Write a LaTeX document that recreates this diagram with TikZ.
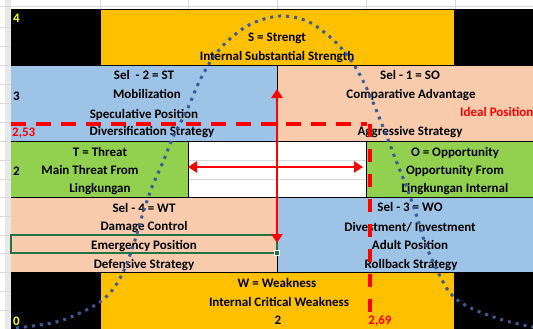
\documentclass[tikz,border=0pt]{standalone}
\usepackage{fontspec}
\setmainfont{Carlito}
\usetikzlibrary{arrows.meta}
\definecolor{xlyellow}{HTML}{FFC000}
\definecolor{xlblue}{HTML}{9DC3E6}
\definecolor{xlpink}{HTML}{F8CBAD}
\definecolor{xlgreen}{HTML}{92D050}
\definecolor{xlgrid}{HTML}{D9D9D9}
\definecolor{xlsel}{HTML}{217346}
\definecolor{curveblue}{HTML}{3A5A9A}
\definecolor{lblyellow}{HTML}{FFFF00}
\begin{document}
\begin{tikzpicture}[x=1pt,y=-1pt,
  font=\fontsize{13}{15}\selectfont\bfseries,
  txt/.style={anchor=base,inner sep=0pt},
  txtw/.style={anchor=base west,inner sep=0pt},
  cellline/.style={black,line width=0.9pt},
  gridline/.style={xlgrid,line width=0.8pt},
  redarrow/.style={red,line width=2.8pt,{Triangle[length=9pt,width=11pt]}-{Triangle[length=9pt,width=11pt]}},
  reddash/.style={red,line width=3.2pt},
  bell/.style={curveblue,line width=3pt,dash pattern=on 3pt off 5pt}]
\useasboundingbox (0,0) rectangle (533,329);
\begin{scope}
\clip (0,0) rectangle (533,329);
% sheet background and headers
\fill[white] (0,0) rectangle (533,329);
\fill[xlgrid!60] (5,0) rectangle (11,329);
\draw[gridline] (0,6) -- (533,6);
\foreach \gx in {100,188,277,366,455} \draw[gridline] (\gx,0) -- (\gx,9);
\foreach \gy in {27,46,65,84,103,122,141,160,179,197,216,235,253,272,291,310} \draw[gridline] (0,\gy) -- (11,\gy);
% cells
\fill[black] (11,9) rectangle (100,65);
\fill[xlyellow] (100,9) rectangle (454,65);
\fill[black] (454,9) rectangle (533,65);
\fill[xlblue] (11,65) rectangle (277,141);
\fill[xlpink] (277,65) rectangle (533,141);
\fill[xlgreen] (11,141) rectangle (188,197);
\fill[white] (188,141) rectangle (366,197);
\fill[xlgreen] (366,141) rectangle (533,197);
\fill[xlpink] (11,197) rectangle (277,272);
\fill[xlblue] (277,197) rectangle (533,272);
\fill[black] (11,272) rectangle (100,329);
\fill[xlyellow] (100,272) rectangle (454,329);
\fill[black] (454,272) rectangle (533,329);
\draw[gridline] (188,160) -- (366,160) (188,179) -- (366,179);
% cell borders
\draw[cellline] (11,9) -- (533,9);
\foreach \by in {65,141,197,272} \draw[cellline] (11,\by) -- (533,\by);
\draw[cellline] (277,65) -- (277,141) (277,197) -- (277,272);
\draw[cellline] (188,141) -- (188,197) (366,141) -- (366,197);
\draw[cellline] (100,9) -- (100,65) (454,9) -- (454,65);
\draw[cellline] (100,272) -- (100,329) (454,272) -- (454,329);
% active cell
\draw[xlsel,line width=1.3pt] (11,235) rectangle (277,253);
\fill[xlsel,draw=white,line width=0.6pt] (274.5,250.5) rectangle (279.5,255.5);

% quadrant texts
\node[txt] (s1) at (277,42) {S = Strengt};
\node[txt] (s2) at (277,61) {Internal Substantial Strength};
\node[txt] (st1) at (144,80) {Sel\ \ - 2\ = ST};
\node[txt] (st2) at (147,99) {Mobilization};
\node[txt] (st3) at (144,118) {Speculative Position};
\node[txt] (st4) at (152,135) {Diversification Strategy};
\node[txt] (so1) at (410,80) {Sel - 1 = SO};
\node[txt] (so2) at (411,99) {Comparative Advantage};
\node[txt] (so3) at (410,135) {Aggressive Strategy};
\node[txtw,text=red] (ideal) at (460,117) {Ideal Position};
\node[txt] (t1) at (100,156) {T = Threat};
\node[txt] (t2) at (90,174) {Main Threat From};
\node[txt] (t3) at (100,192) {Lingkungan};
\node[txt] (o1) at (455,156) {O = Opportunity};
\node[txt] (o2) at (455,174) {Opportunity From};
\node[txt] (o3) at (455,192) {Lingkungan Internal};
\node[txt] (wt1) at (144,212) {Sel - 4 = WT};
\node[txt] (wt2) at (144,230) {Damage Control};
\node[txt] (wt3) at (144,249) {Emergency Position};
\node[txt] (wt4) at (144,268) {Defensive Strategy};
\node[txt] (wo1) at (410,211) {Sel - 3 = WO};
\node[txt] (wo2) at (410,231) {Divestment/ Investment};
\node[txt] (wo3) at (410,249) {Adult Position};
\node[txt] (wo4) at (411,268) {Rollback Strategy};
\node[txt] (w1) at (277,287) {W = Weakness};
\node[txt] (w2) at (279,306) {Internal Critical Weakness};
% axis values
\node[txtw,text=lblyellow] (y4) at (13,23) {4};
\node[txtw] (y3) at (13,100) {3};
\node[txtw,text=red] (y253) at (12,136) {2,53};
\node[txtw] (y2) at (13,175) {2};
\node[txtw,text=lblyellow] (y0) at (13,325) {0};
\node[txt] (x2) at (278,324) {2};
\node[txt,text=red] (x269) at (380,324) {2,69};

% position lines at 2,53 and 2,69
\coordinate (hd0) at (11,124);
\coordinate (hd1) at (367,124);
\coordinate (vd0) at (370,124);
\coordinate (vd1) at (370,313);
\draw[reddash,dash pattern=on 15pt off 10pt] (hd0) -- (hd1);
\draw[reddash,dash pattern=on 13pt off 12pt] (vd0) -- (vd1);

% axis arrows
\coordinate (va) at (277,89);
\coordinate (vb) at (277,243);
\coordinate (ha) at (188,167);
\coordinate (hb) at (363,167);
\draw[redarrow] (va) -- (vb);
\draw[redarrow] (ha) -- (hb);

% bell curve
\draw[bell] plot[smooth,tension=0.55] coordinates {
 (16,328) (40,325) (60,321) (80,313) (100,302) (114,288) (125,268) (135,240)
 (143,213) (152,187) (163,162) (173,137) (187,110) (200,80) (215,55) (232,37)
 (253,23) (280,16) (307,21) (330,37) (347,55) (360,75) (372,100) (387,137)
 (397,163) (407,188) (417,217) (425,243) (437,270) (450,293) (465,305)
 (485,314) (510,322) (533,327)};
\end{scope}
\end{tikzpicture}
\end{document}
